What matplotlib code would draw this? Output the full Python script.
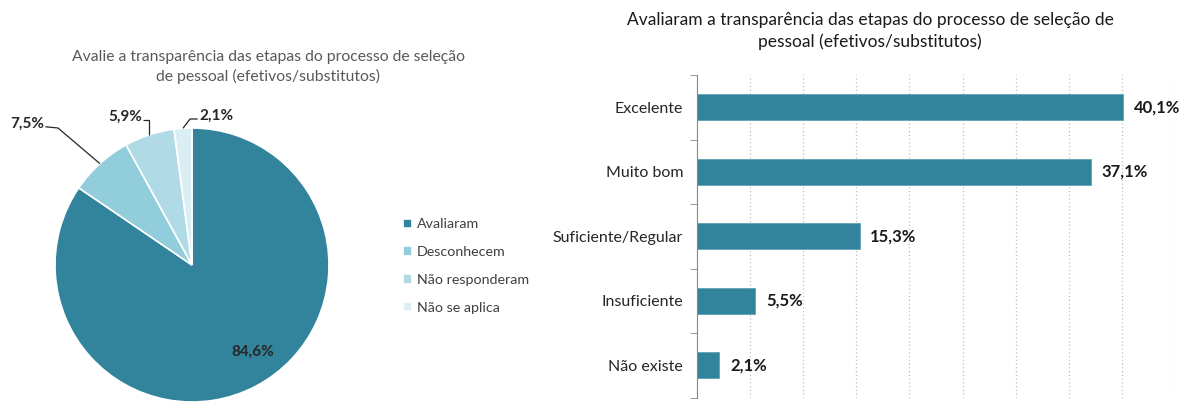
import numpy as np
import matplotlib

matplotlib.use("Agg")
import matplotlib.pyplot as plt

plt.rcParams["font.family"] = ["Lato", "DejaVu Sans"]

# pie data
pie_labels = ["Avaliaram", "Desconhecem", "Não responderam", "Não se aplica"]
pie_values = [84.6, 7.5, 5.9, 2.1]
pie_texts = ["84,6%", "7,5%", "5,9%", "2,1%"]
pie_colors = ["#31849b", "#92cddc", "#b0dbe6", "#daeef3"]
pie_title = "Avalie a transparência das etapas do processo de seleção\nde pessoal (efetivos/substitutos)"

# bar data
bar_cats = ["Excelente", "Muito bom", "Suficiente/Regular", "Insuficiente", "Não existe"]
bar_values = [40.1, 37.1, 15.3, 5.5, 2.1]
bar_texts = ["40,1%", "37,1%", "15,3%", "5,5%", "2,1%"]
bar_title = "Avaliaram a transparência das etapas do processo de seleção de\npessoal (efetivos/substitutos)"

W, H = 1186, 403
fig = plt.figure(figsize=(W / 100, H / 100), dpi=100)


def box(l, t, w, h):
    return [l / W, 1 - (t + h) / H, w / W, h / H]


# ---- pie ----
cx, cy, r = 192, 265, 137
ax = fig.add_axes(box(cx - r, cy - r, 2 * r, 2 * r))
wedges, _ = ax.pie(pie_values, colors=pie_colors, startangle=90, counterclock=False,
                   radius=1, wedgeprops=dict(edgecolor="white", linewidth=1.2))
ax.set_xlim(-1, 1)
ax.set_ylim(-1, 1)
ax.set_aspect("equal")
ax.axis("off")


def d(px, py):
    # pixel offsets -> pie data units
    return (px - cx) / r, (cy - py) / r


lab_kw = dict(fontsize=11, fontweight="bold", color="#262626")
ax.text(*d(253, 352), pie_texts[0], ha="center", va="center", **lab_kw)

mids = [np.deg2rad((w.theta1 + w.theta2) / 2) for w in wedges]
edge = [(np.cos(m), np.sin(m)) for m in mids]
line_kw = dict(color="#262626", lw=0.9, clip_on=False, solid_capstyle="butt")

# 7,5%
tx, ty = d(44, 124)
ax.text(tx, ty, pie_texts[1], ha="right", va="center", **lab_kw)
k = d(58, 128)
ax.plot([tx + 0.01, k[0], edge[1][0]], [ty - 0.02, k[1], edge[1][1]], **line_kw)
# 5,9%
tx, ty = d(142, 117)
ax.text(tx, ty, pie_texts[2], ha="right", va="center", **lab_kw)
k = d(149, 120)
ax.plot([tx + 0.01, k[0], k[0]], [k[1], k[1], edge[2][1]], **line_kw)
# 2,1%
tx, ty = d(199, 116)
ax.text(tx, ty, pie_texts[3], ha="left", va="center", **lab_kw)
k = d(190, 119)
ax.plot([edge[3][0], k[0], tx - 0.01], [edge[3][1], k[1], k[1]], **line_kw)

fig.text(268 / W, 1 - 67 / H, pie_title, ha="center", va="center", fontsize=11.3,
         color="#595959", linespacing=1.4)

leg = fig.legend(wedges, pie_labels, loc="center left", bbox_to_anchor=(390 / W, 1 - 266 / H),
                 frameon=False, fontsize=10.3, handlelength=0.65, handleheight=0.65,
                 handletextpad=0.35, labelspacing=1.1, labelcolor="#404040")

# ---- bars ----
bx = fig.add_axes(box(697, 75, 478, 322.5))
y = np.arange(len(bar_cats))
bx.barh(y, bar_values, height=0.4, color="#31849b", edgecolor="#5fa3b5", linewidth=0.6)
bx.set_ylim(len(bar_cats) - 0.5, -0.5)
bx.set_xlim(0, 45)
bx.set_yticks(y)
bx.set_yticklabels(bar_cats, fontsize=11.5, color="#262626")
bx.set_yticks(np.arange(-0.5, len(bar_cats), 1.0), minor=True)
bx.tick_params(axis="y", which="major", length=0, pad=10)
bx.tick_params(axis="y", which="minor", length=5, color="#868686", direction="out")
bx.set_xticks(np.arange(5, 46, 5))
bx.tick_params(axis="x", length=0, labelbottom=False)
bx.grid(axis="x", linestyle=(0, (1, 2)), color="#bfbfbf", linewidth=0.9)
bx.set_axisbelow(True)
for s in ("top", "right", "bottom"):
    bx.spines[s].set_visible(False)
bx.spines["left"].set_color("#868686")
for yi, v, t in zip(y, bar_values, bar_texts):
    bx.text(v + 1.0, yi, t, va="center", ha="left", fontsize=12, fontweight="bold",
            color="#1a1a1a")

fig.text(870 / W, 1 - 31 / H, bar_title, ha="center", va="center", fontsize=12.5,
         color="#1a1a1a", linespacing=1.35)

fig.savefig("out.png", dpi=100)
